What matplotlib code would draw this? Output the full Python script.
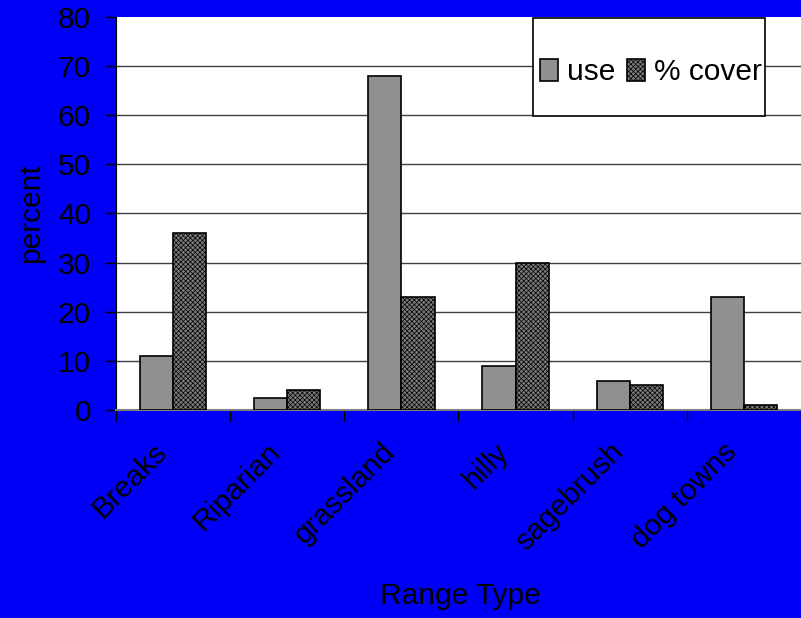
import matplotlib
matplotlib.use("Agg")
import numpy as np
import matplotlib.pyplot as plt
from matplotlib.patches import Rectangle

categories = ["Breaks", "Riparian", "grassland", "hilly", "sagebrush", "dog towns"]
use_pct = [11, 2.5, 68, 9, 6, 23]
cover_pct = [36, 4, 23, 30, 5, 1]
yticks = [0, 10, 20, 30, 40, 50, 60, 70, 80]

plt.rcParams["font.family"] = ["Liberation Sans", "DejaVu Sans"]
plt.rcParams["hatch.linewidth"] = 0.5
plt.rcParams["hatch.color"] = "#303030"

BLUE = "#0000f6"
FS = 21.5

fig = plt.figure(figsize=(8.01, 6.18), dpi=100, facecolor=BLUE)
ax = fig.add_axes([0.1448, 0.3366, 0.8552, 0.6359])
ax.set_facecolor("white")

x = np.arange(len(categories))
w = 0.29
ax.bar(x - w / 2, use_pct, w, color="#909090", edgecolor="black",
       linewidth=1.2, label="use", zorder=3)
ax.bar(x + w / 2, cover_pct, w, color="#7a7a7a", edgecolor="black",
       linewidth=1.2, hatch="xxxxxxx", label="% cover", zorder=3)

ax.set_xlim(-0.5, len(categories) - 0.5)
ax.set_ylim(0, 80)
ax.set_yticks(yticks)
ax.set_yticklabels([str(v) for v in yticks], fontsize=FS)

# horizontal gridlines, none at the top edge
for v in yticks[1:-1]:
    ax.axhline(v, color="#404040", linewidth=1.0, zorder=1)

# category ticks sit on the boundaries between groups
ax.set_xticks(np.arange(-0.5, len(categories) + 0.5, 1.0))
ax.set_xticklabels([])
ax.tick_params(axis="x", direction="out", length=8, width=1, color="black")
ax.tick_params(axis="y", direction="out", length=8, width=1, color="black", pad=10)
for i, name in enumerate(categories):
    ax.annotate(name, xy=(i, 0), xycoords="data", xytext=(-15, -20),
                textcoords="offset points", rotation=45, ha="right", va="top",
                rotation_mode="anchor", fontsize=FS)

for side in ("top", "right"):
    ax.spines[side].set_visible(False)
ax.spines["left"].set_color("black")
ax.spines["bottom"].set_color("#808080")
ax.spines["bottom"].set_linewidth(1.5)

ax.set_ylabel("percent", fontsize=FS)
ax.yaxis.set_label_coords(-0.104, 0.5)
fig.text(0.575, 0.035, "Range Type", fontsize=FS, ha="center", va="center")

# legend box drawn as its own rectangle, entries centred inside it
ax.add_patch(Rectangle((0.609, 0.748), 0.338, 0.249, transform=ax.transAxes,
                       facecolor="white", edgecolor="black", linewidth=1.2,
                       zorder=4, clip_on=False))
leg = ax.legend(loc="center", bbox_to_anchor=(0.781, 0.86), ncol=2,
                frameon=False, fontsize=FS, handlelength=0.6, handleheight=0.75,
                handletextpad=0.3, columnspacing=0.4, borderaxespad=0)
leg.set_zorder(5)

fig.savefig("out.png", dpi=100, facecolor=BLUE)
